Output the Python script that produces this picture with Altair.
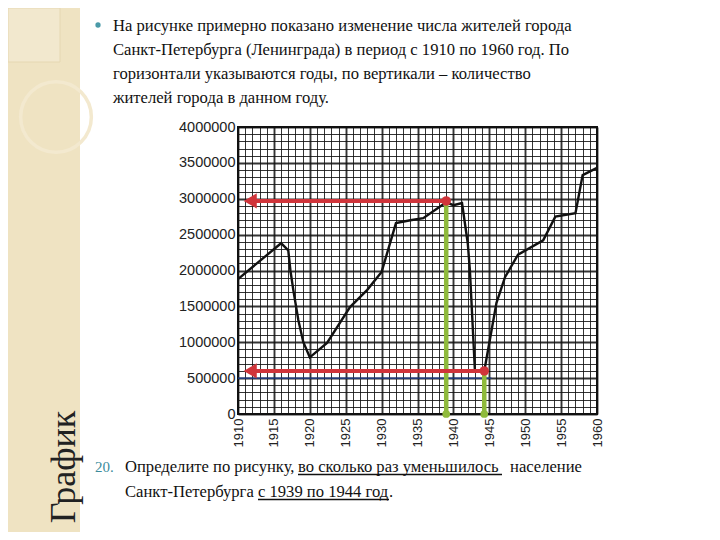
import altair as alt
import pandas as pd

# ---- data ----
years = [1910, 1916, 1917, 1917.3, 1917.7, 1918.4, 1919.1, 1920, 1922.4, 1925.6,
         1928, 1930, 1932, 1934, 1935.8, 1938.4, 1939, 1940, 1941.2, 1942,
         1942.3, 1943, 1944.3, 1946, 1947.2, 1949, 1952.5, 1954.2, 1957, 1958, 1960]
population = [1880000, 2380000, 2280000, 2000000, 1730000, 1310000, 1000000, 790000, 990000, 1490000,
              1730000, 1980000, 2660000, 2700000, 2730000, 2910000, 2950000, 2910000, 2940000, 2380000,
              2000000, 600000, 600000, 1550000, 1910000, 2220000, 2420000, 2750000, 2800000, 3330000, 3430000]
mark_years = [1939, 1944.3]
mark_values = [2970000, 600000]
x_ticks = list(range(1910, 1961))
y_ticks = list(range(0, 4000001, 100000))

top_lines = [
    "На рисунке примерно показано изменение числа жителей города",
    "Санкт-Петербурга (Ленинграда) в период с 1910 по 1960 год. По",
    "горизонтали указываются годы, по вертикали – количество",
    "жителей города в данном году.",
]

W, H = 359, 287
OX, OY = 238, 127  # page position of the plot origin


def px(x):
    return x - OX


def py(y):
    return y - OY


RED = "#d0343a"
GREEN = "#8fba3c"
SERIF = "Liberation Serif"
FS = 16.6

curve_df = pd.DataFrame({"year": years, "pop": population})
mark_df = pd.DataFrame({"year": mark_years, "pop": mark_values})
one = pd.DataFrame({"k": [0]})

xs = alt.Scale(domain=[1910, 1960], nice=False, zero=False)
ys = alt.Scale(domain=[0, 4000000], nice=False, zero=True)

x_axis = alt.Axis(
    values=x_ticks,
    labelExpr="datum.value % 5 === 0 ? '' + datum.value : ''",
    labelAngle=270, labelFont="Liberation Sans", labelFontSize=13, labelColor="#222",
    labelOverlap=False, labelFlush=False, labelPadding=4, ticks=False, domain=False, title=None,
    grid=True, gridColor="#111", gridOpacity=0.85,
    gridWidth={"condition": {"test": "datum.value % 5 === 0", "value": 1.9}, "value": 1.0},
)
y_axis = alt.Axis(
    values=y_ticks,
    labelExpr="datum.value % 500000 === 0 ? '' + datum.value : ''",
    labelFont="Liberation Sans", labelFontSize=14.5, labelColor="#222",
    labelOverlap=False, labelFlush=False, labelPadding=3, ticks=False, domain=False, title=None,
    grid=True, gridColor="#111", gridOpacity=0.85,
    gridWidth={"condition": {"test": "datum.value % 500000 === 0", "value": 1.9}, "value": 1.0},
)


def X(field):
    return alt.X(field, scale=xs, axis=x_axis)


def Y(field):
    return alt.Y(field, scale=ys, axis=y_axis)


def XD(v):
    return alt.XDatum(v, scale=xs, axis=x_axis)


def YD(v):
    return alt.YDatum(v, scale=ys, axis=y_axis)


def text_layer(txt, x, y, size=FS, color="#111", font=SERIF, **kw):
    return alt.Chart(one).mark_text(text=txt, font=font, fontSize=size, color=color,
                                    align=kw.pop("align", "left"),
                                    baseline=kw.pop("baseline", "alphabetic"), **kw).encode(
        x=alt.value(px(x)), y=alt.value(py(y)))


layers = []

# population curve with axes and grid (first so the axes come from it)
layers.append(alt.Chart(curve_df).mark_line(color="#111", strokeWidth=2.4).encode(
    x=X("year:Q"), y=Y("pop:Q")))

# left decorative strip
layers.append(alt.Chart(one).mark_rect(color="#efe3c2").encode(
    x=alt.value(px(8)), x2=alt.value(px(80)), y=alt.value(py(8)), y2=alt.value(py(532))))
layers.append(alt.Chart(one).mark_rect(fill="#f2e8ce", stroke="#e6d8b2", strokeWidth=1).encode(
    x=alt.value(px(8)), x2=alt.value(px(60)), y=alt.value(py(8)), y2=alt.value(py(62))))
layers.append(alt.Chart(one).mark_point(shape="circle", filled=False, size=5000, color="#f3e9cf",
                                        strokeWidth=3.5, opacity=1).encode(
    x=alt.value(px(56)), y=alt.value(py(117))))
layers.append(text_layer("График", 64, 467, size=36, color="#222", angle=270,
                         align="center", baseline="middle"))

# top text
layers.append(alt.Chart(one).mark_circle(color="#4a9aa8", size=28, opacity=1).encode(
    x=alt.value(px(98)), y=alt.value(py(25))))
for i, line in enumerate(top_lines):
    layers.append(text_layer(line, 113, 31 + 24 * i))

# bottom text
layers.append(text_layer("20.", 95, 472, size=15, color="#3b8c9c"))
segments = [
    ("Определите по рисунку,", 125, 472, None),
    ("во сколько раз уменьшилось", 298, 472, 502),
    ("население", 510, 472, None),
    ("Санкт-Петербурга", 125, 497, None),
    ("с 1939 по 1944 год", 258, 497, 389),
    (".", 389, 497, None),
]
for txt, sx, sy, ux in segments:
    layers.append(text_layer(txt, sx, sy))
    if ux is not None:
        layers.append(alt.Chart(one).mark_rule(color="#111", strokeWidth=1.3).encode(
            x=alt.value(px(sx)), x2=alt.value(px(ux)), y=alt.value(py(sy + 2.5))))

# thin blue line at 500000
layers.append(alt.Chart(one).mark_rule(color="#1f3f8f", strokeWidth=1.2).encode(
    x=XD(1910), x2=alt.datum(1945.3), y=YD(500000)))

# green vertical lines
layers.append(alt.Chart(mark_df).mark_rule(color=GREEN, strokeWidth=4.5).encode(
    x=X("year:Q"), y=Y("pop:Q"), y2=alt.datum(0)))
layers.append(alt.Chart(mark_df).mark_circle(color=GREEN, size=60, opacity=1).encode(
    x=X("year:Q"), y=YD(0)))

# red arrows
layers.append(alt.Chart(mark_df).mark_rule(color=RED, strokeWidth=4).encode(
    x=X("year:Q"), x2=alt.datum(1911.8), y=Y("pop:Q")))
layers.append(alt.Chart(mark_df).mark_point(shape="triangle-left", filled=True, size=230,
                                            color=RED, opacity=1).encode(
    x=XD(1911.7), y=Y("pop:Q")))
layers.append(alt.Chart(mark_df).mark_circle(color=RED, size=90, opacity=1).encode(
    x=X("year:Q"), y=Y("pop:Q")))

chart = alt.layer(*layers).properties(
    width=W, height=H,
    autosize=alt.AutoSizeParams(type="none"),
    padding={"left": 230, "top": 119, "right": 115, "bottom": 118},
    background="white",
).configure_view(stroke="#111", strokeWidth=2)

chart.save("out.html", embed_options={"renderer": "svg", "actions": False})
